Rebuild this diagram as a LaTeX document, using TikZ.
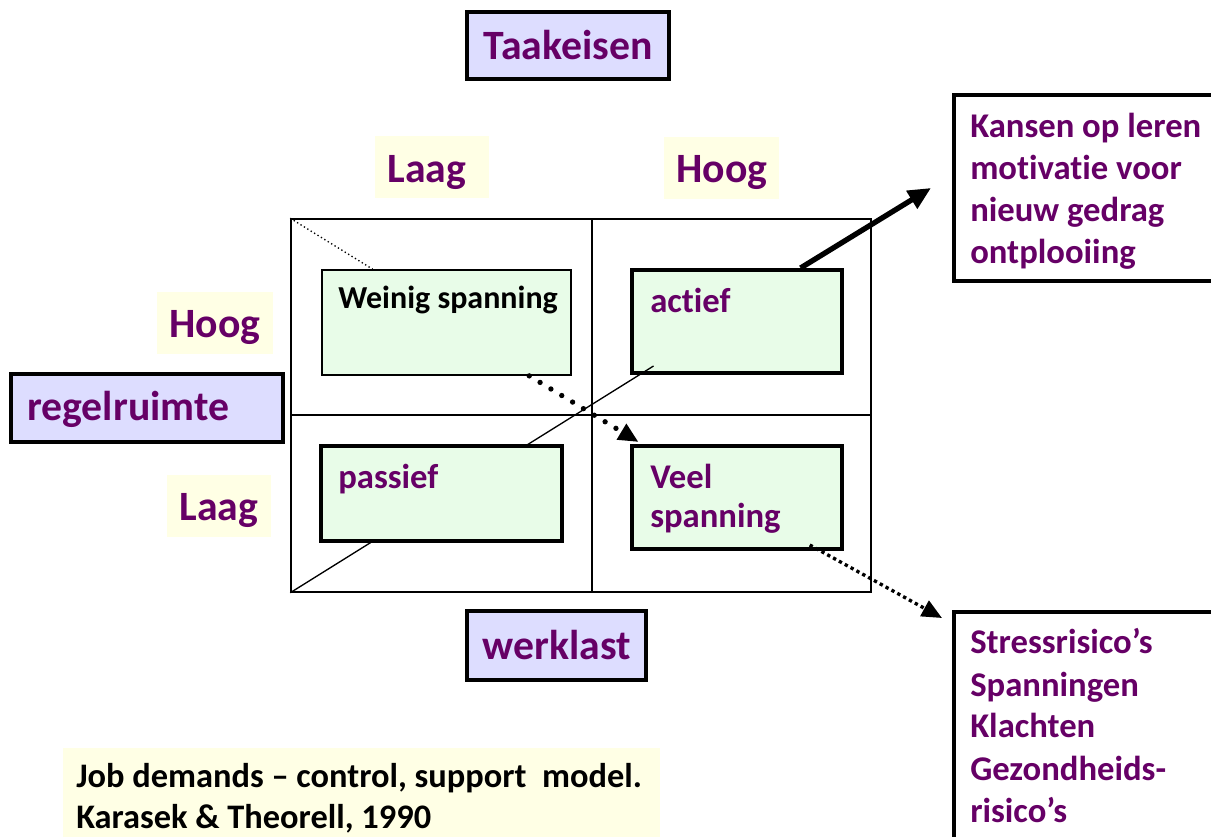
\documentclass[tikz,border=0pt]{standalone}
\usepackage{fontspec}
\setmainfont{Carlito}[Ligatures=NoCommon]
\usetikzlibrary{fit,calc,arrows.meta}
\definecolor{pur}{HTML}{660066}
\definecolor{lav}{HTML}{DDDDFF}
\definecolor{ivo}{HTML}{FFFFE5}
\definecolor{grn}{HTML}{E8FCE8}
\begin{document}
\begin{tikzpicture}[x=0.75pt,y=-0.75pt,
  lavbox/.style={draw=black,line width=3pt,fill=lav,inner sep=0pt},
  ivobox/.style={fill=ivo,inner sep=0pt},
  grnbox/.style={draw=black,line width=3pt,fill=grn,inner sep=0pt},
  thinbox/.style={draw=black,line width=1.3pt,fill=grn,inner sep=0pt},
  outbox/.style={draw=black,line width=3pt,fill=white,inner sep=0pt},
  gridline/.style={line width=1.1pt},
  big/.style={font=\fontsize{31.3}{37}\selectfont\bfseries,text=pur,inner sep=0pt},
  mid/.style={font=\fontsize{26}{31.5}\selectfont\bfseries,text=pur,inner sep=0pt,anchor=base west},
  blk/.style={font=\fontsize{25.8}{31.5}\selectfont\bfseries,text=black,inner sep=0pt,anchor=base west},
  ws/.style={font=\fontsize{24}{28}\selectfont\bfseries,text=black,inner sep=0pt,anchor=base west}
]
\useasboundingbox (0,0) rectangle (1211,837);
\fill[white] (0,0) rectangle (1211,837);

% top and side labels
\node[lavbox,fit={(467,12) (669,79)}] (taak) {};
\node[big,anchor=base] (taakt) at (568,60) {Taakeisen};

\node[ivobox,fit={(375,136) (489,198)}] (laagtop) {};
\node[big,anchor=base] (laagtopt) at (427,183) {Laag};
\node[ivobox,fit={(664,137) (779,199)}] (hoogtop) {};
\node[big,anchor=base] (hoogtopt) at (722,183) {Hoog};

\node[ivobox,fit={(157,292) (273,354)}] (hoogl) {};
\node[big,anchor=base] (hooglt) at (215,338) {Hoog};
\node[ivobox,fit={(167,475) (271,537)}] (laagl) {};
\node[big,anchor=base] (laaglt) at (219,521) {Laag};

\node[lavbox,fit={(11,374) (283,442)}] (regel) {};
\node[big,anchor=base west] (regelt) at (27,421) {regelruimte};

\node[lavbox,fit={(467,611) (646,680)}] (werk) {};
\node[big,anchor=base] (werkt) at (557,660) {werklast};

% grid
\node[draw=black,line width=1.1pt,inner sep=0pt,fit={(291,219) (871,592)}] (grid) {};
\draw[gridline] (grid.north -| 592,0) -- (grid.south -| 592,0);
\draw[gridline] (grid.west |- 0,415) -- (grid.east |- 0,415);

% quadrant boxes
\node[thinbox,fit={(322,270) (571,375)}] (weinig) {};
\node[ws] (weinigt) at (338,309) {Weinig spanning};
\node[grnbox,fit={(632,270) (842,373)}] (actief) {};
\node[mid] (actieft) at (650,313) {actief};

\draw[line width=1pt] (grid.south west) -- ($(actief.south west)!0.11!(actief.south east)+(0,-9)$) coordinate (diagend);

\node[grnbox,fit={(321,446) (562,541)}] (passief) {};
\node[mid] (passieft) at (338,489) {passief};
\node[grnbox,fit={(632,446) (842,549)}] (veel) {};
\node[mid] (veelt1) at (650,489) {Veel};
\node[mid] (veelt2) at (650,528) {spanning};

% dotted corner line
\draw[line width=1pt,dotted] (grid.north west) -- ($(weinig.north west)!0.205!(weinig.north east)$);

% outcome boxes
\node[outbox,fit={(954,95) (1220,281)}] (kans) {};
\node[mid] (k1) at (970,138) {Kansen op leren};
\node[mid] (k2) at (970,180) {motivatie voor};
\node[mid] (k3) at (970,222) {nieuw gedrag};
\node[mid] (k4) at (970,264) {ontplooiing};

\node[outbox,fit={(954,612) (1220,845)}] (stress) {};
\node[mid] (s1) at (970,654) {Stressrisico’s};
\node[mid] (s2) at (970,696) {Spanningen};
\node[mid] (s3) at (970,738) {Klachten};
\node[mid] (s4) at (970,780) {Gezondheids-};
\node[mid] (s5) at (970,822) {risico’s};

% citation
\node[ivobox,fit={(63,748) (660,845)}] (cite) {};
\node[blk] (c1) at (76,787) {Job demands – control, support\ \ model.};
\node[blk] (c2) at (76,828) {Karasek \& Theorell, 1990};

% arrows
\coordinate (kansin) at (931,188);
\draw[line width=4pt,-{Triangle[length=17pt,width=15pt]}] ($(actief.north west)!0.797!(actief.north east)$) -- (kansin);

\draw[line width=4pt,line cap=round,dash pattern=on 0pt off 9.5pt,-{Triangle[length=15pt,width=13pt,line cap=butt]}]
  ($(weinig.south west)!0.83!(weinig.south east)$) -- ($(veel.north west)!0.04!(veel.north east)+(0,-2)$);

\draw[line width=2.5pt,dash pattern=on 2.5pt off 2.5pt,-{Triangle[length=15pt,width=13pt]}]
  ($(veel.south west)!0.84!(veel.south east)+(0,-6)$) -- ($(stress.north west)+(-10,8)$);
\end{tikzpicture}
\end{document}
